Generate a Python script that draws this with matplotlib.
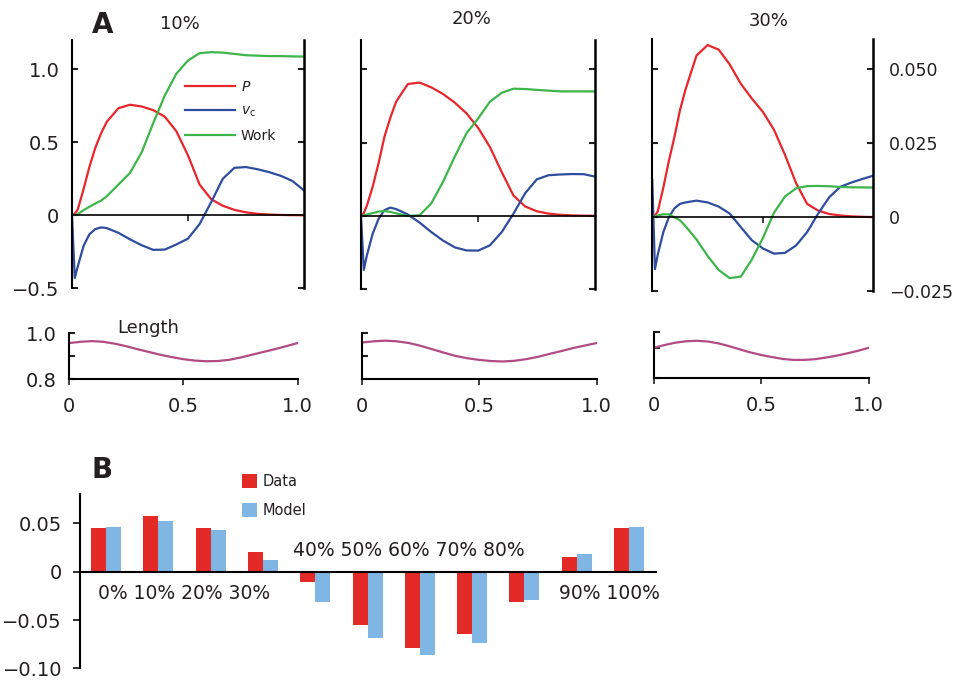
import matplotlib
matplotlib.use("Agg")
import matplotlib.pyplot as plt
import numpy as np

plt.rcParams['font.family'] = 'DejaVu Sans'
plt.rcParams['mathtext.fontset'] = 'dejavusans'
plt.rcParams['text.color'] = '#231f20'
plt.rcParams['xtick.color'] = '#231f20'
plt.rcParams['ytick.color'] = '#231f20'

# ---- panel A data (normalised units) ----
t = [0, 0.012, 0.025, 0.05, 0.075, 0.1, 0.125, 0.15, 0.2, 0.25, 0.3, 0.35, 0.4,
     0.45, 0.5, 0.55, 0.6, 0.65, 0.7, 0.75, 0.8, 0.85, 0.9, 0.95, 1.0]

p_10 = [0, 0.01, 0.04, 0.18, 0.33, 0.46, 0.56, 0.64, 0.733, 0.757, 0.745, 0.72, 0.675,
        0.575, 0.41, 0.21, 0.11, 0.065, 0.037, 0.02, 0.01, 0.005, 0.002, 0.001, 0]
vc_10 = [0, -0.43, -0.35, -0.21, -0.13, -0.095, -0.083, -0.088, -0.12, -0.165, -0.205, -0.237, -0.235,
         -0.2, -0.16, -0.06, 0.09, 0.25, 0.325, 0.33, 0.315, 0.295, 0.27, 0.235, 0.17]
work_10 = [0, 0.002, 0.008, 0.035, 0.058, 0.08, 0.10, 0.13, 0.21, 0.29, 0.43, 0.63, 0.82,
           0.97, 1.06, 1.11, 1.117, 1.114, 1.105, 1.096, 1.093, 1.09, 1.09, 1.088, 1.087]

p_20 = [0, 0.02, 0.07, 0.2, 0.36, 0.54, 0.67, 0.78, 0.90, 0.91, 0.877, 0.832, 0.773,
        0.70, 0.60, 0.47, 0.30, 0.14, 0.065, 0.032, 0.016, 0.008, 0.004, 0.002, 0.001]
vc_20 = [0, -0.368, -0.27, -0.12, -0.02, 0.04, 0.057, 0.047, 0.01, -0.045, -0.11, -0.168, -0.214,
         -0.235, -0.236, -0.2, -0.11, 0.015, 0.155, 0.25, 0.278, 0.283, 0.286, 0.285, 0.268]
work_20 = [0, 0.004, 0.01, 0.02, 0.03, 0.034, 0.028, 0.018, 0.0, 0.005, 0.086, 0.234, 0.405,
           0.564, 0.666, 0.78, 0.84, 0.868, 0.866, 0.86, 0.855, 0.85, 0.85, 0.85, 0.85]

p_30 = [0, 0.01, 0.04, 0.2, 0.38, 0.54, 0.72, 0.86, 1.09, 1.16, 1.13, 1.03, 0.90,
        0.80, 0.71, 0.59, 0.42, 0.23, 0.09, 0.045, 0.022, 0.012, 0.006, 0.003, 0.001]
vc_30 = [0.25, -0.35, -0.25, -0.10, 0.0, 0.06, 0.09, 0.10, 0.112, 0.10, 0.072, 0.025, -0.066,
         -0.155, -0.21, -0.245, -0.24, -0.19, -0.10, 0.025, 0.135, 0.205, 0.234, 0.258, 0.281]
work_30 = [0, 0.005, 0.012, 0.02, 0.02, 0.0, -0.02, -0.06, -0.15, -0.26, -0.355, -0.41, -0.40,
           -0.285, -0.14, 0.03, 0.14, 0.195, 0.21, 0.211, 0.209, 0.204, 0.202, 0.201, 0.2]

# muscle length traces
len_t = [0, 0.05, 0.1, 0.15, 0.2, 0.25, 0.3, 0.35, 0.4, 0.45, 0.5,
         0.55, 0.6, 0.65, 0.7, 0.75, 0.8, 0.85, 0.9, 0.95, 1.0]
len_10 = [0.9565, 0.962, 0.965, 0.962, 0.954, 0.943, 0.930, 0.918, 0.906, 0.896, 0.887,
          0.881, 0.878, 0.879, 0.884, 0.894, 0.906, 0.918, 0.930, 0.943, 0.9565]
len_20 = [0.959, 0.964, 0.967, 0.964, 0.957, 0.945, 0.930, 0.915, 0.901, 0.891, 0.884,
          0.879, 0.877, 0.880, 0.887, 0.897, 0.910, 0.922, 0.935, 0.946, 0.9565]
len_30 = [0.931, 0.943, 0.953, 0.959, 0.961, 0.958, 0.950, 0.938, 0.924, 0.911, 0.900,
          0.891, 0.883, 0.879, 0.879, 0.882, 0.889, 0.897, 0.907, 0.918, 0.931]

# ---- panel B data ----
pct = ['0%', '10%', '20%', '30%', '40%', '50%', '60%', '70%', '80%', '90%', '100%']
data_vals = [0.0452, 0.0576, 0.0452, 0.0203, -0.0103, -0.0548, -0.0786, -0.0641, -0.0314, 0.0152, 0.0452]
model_vals = [0.0462, 0.0524, 0.0431, 0.0121, -0.0314, -0.0683, -0.0859, -0.0734, -0.029, 0.0183, 0.0462]

RED = '#e8262b'
BLUE = '#2f4d9e'
GREEN = '#3db54a'
PURPLE = '#b24b84'
BAR_RED = '#e42a26'
BAR_BLUE = '#80b6e3'

fig = plt.figure(figsize=(9.56, 6.81), dpi=100)


def curve_panel(rect, P, vc, W):
    ax = fig.add_axes(rect)
    ax.plot(t, P, color=RED, lw=1.6, label='$P$')
    ax.plot(t, vc, color=BLUE, lw=1.6, label=r'$v_{\rm c}$')
    ax.plot(t, W, color=GREEN, lw=1.6, label='Work')
    ax.set_xlim(0, 1)
    ax.set_ylim(-0.5, 1.2)
    ax.spines['top'].set_visible(False)
    ax.spines['bottom'].set_position(('data', 0))
    ax.spines['bottom'].set_linewidth(1.2)
    ax.spines['left'].set_linewidth(1.5)
    ax.spines['right'].set_linewidth(1.8)
    ax.set_xticks([0.5])
    ax.set_xticklabels([])
    ax.tick_params(axis='x', direction='out', length=4, width=1.2)
    ax.set_yticks([-0.5, 0, 0.5, 1.0])
    ax.set_yticklabels(['\u22120.5', '0', '0.5', '1.0'])
    ax.tick_params(axis='y', direction='in', length=4, width=1.5, left=True, right=True,
                   labelleft=False, labelsize=14, pad=9)
    return ax


def length_panel(rect, L, yticks):
    ax = fig.add_axes(rect)
    ax.plot(len_t, L, color=PURPLE, lw=1.6)
    ax.set_xlim(0, 1)
    ax.set_ylim(0.8, 1.0)
    ax.spines['top'].set_visible(False)
    ax.spines['right'].set_visible(False)
    ax.spines['bottom'].set_linewidth(1.5)
    ax.spines['left'].set_linewidth(1.5)
    ax.set_xticks([0, 0.5, 1.0])
    ax.set_xticklabels(['0', '0.5', '1.0'])
    ax.tick_params(axis='x', direction='out', length=4, width=1.2, pad=9, labelsize=14)
    ax.set_yticks(yticks)
    ax.set_yticklabels([])
    ax.tick_params(axis='y', direction='in', length=4, width=1.5, labelsize=14, pad=9)
    return ax


ax1 = curve_panel([0.0753, 0.5767, 0.2427, 0.3645], p_10, vc_10, work_10)
ax1.tick_params(axis='y', labelleft=True)
ax1.legend(loc='upper left', bbox_to_anchor=(0.488, 0.84), frameon=False, fontsize=10,
           handlelength=3.6, handletextpad=0.4, labelspacing=0.72, borderpad=0, borderaxespad=0)

ax2 = curve_panel([0.3776, 0.5752, 0.2453, 0.366], p_20, vc_20, work_20)

ax3 = curve_panel([0.6823, 0.572, 0.2314, 0.3705], p_30, vc_30, work_30)
ax3.tick_params(axis='y', labelright=True, labelleft=False, labelsize=12.5, pad=11)
ax3.set_yticklabels(['\u22120.025', '0', '0.025', '0.050'])

l1 = length_panel([0.0722, 0.443, 0.239, 0.068], len_10, [0.8, 0.9, 1.0])
l1.set_yticklabels(['0.8', '', '1.0'])
length_panel([0.3783, 0.443, 0.2458, 0.068], len_20, [0.8, 0.9, 1.0])
length_panel([0.6841, 0.4445, 0.2246, 0.0684], len_30, [0.8, 0.93, 1.0])

fig.text(0.0962, 0.9515, 'A', fontsize=20, fontweight='bold')
fig.text(0.1883, 0.9648, '10%', fontsize=13, ha='center', va='center')
fig.text(0.4937, 0.9714, '20%', fontsize=13, ha='center', va='center')
fig.text(0.8044, 0.969, '30%', fontsize=13, ha='center', va='center')
fig.text(0.155, 0.518, 'Length', fontsize=13, ha='center', va='center')

# ---- panel B ----
axb = fig.add_axes([0.0837, 0.0186, 0.6025, 0.2554])
x = np.arange(len(pct))
w = 0.287
axb.bar(x - w / 2, data_vals, w, color=BAR_RED, label='Data')
axb.bar(x + w / 2, model_vals, w, color=BAR_BLUE, label='Model')
axb.set_xlim(-0.497, 10.516)
axb.set_ylim(-0.1, 0.08)
axb.spines['top'].set_visible(False)
axb.spines['right'].set_visible(False)
axb.spines['bottom'].set_position(('data', 0))
axb.spines['bottom'].set_linewidth(1.5)
axb.spines['left'].set_linewidth(1.5)
axb.set_xticks([])
axb.set_yticks([-0.1, -0.05, 0, 0.05])
axb.set_yticklabels(['\u22120.10', '\u22120.05', '0', '0.05'])
axb.tick_params(axis='y', direction='out', length=5, width=1.3, pad=8, labelsize=14)

# category labels written as runs of text, above or below the zero line
for a, b, dx, dy in [(0, 4, 0, -16), (4, 9, -8, 15), (9, 11, 5, -16)]:
    axb.annotate(' '.join(pct[a:b]), xy=(np.mean(x[a:b]), 0), xytext=(dx, dy),
                 textcoords='offset points', ha='center', va='center', fontsize=13.5)

axb.legend(loc='upper left', bbox_to_anchor=(0.281, 1.117), frameon=False, fontsize=10.5,
           handlelength=1.05, handleheight=1.05, handletextpad=0.35, labelspacing=0.95,
           borderpad=0, borderaxespad=0)

fig.text(0.0962, 0.298, 'B', fontsize=20, fontweight='bold')

fig.savefig('out.png', dpi=100)
